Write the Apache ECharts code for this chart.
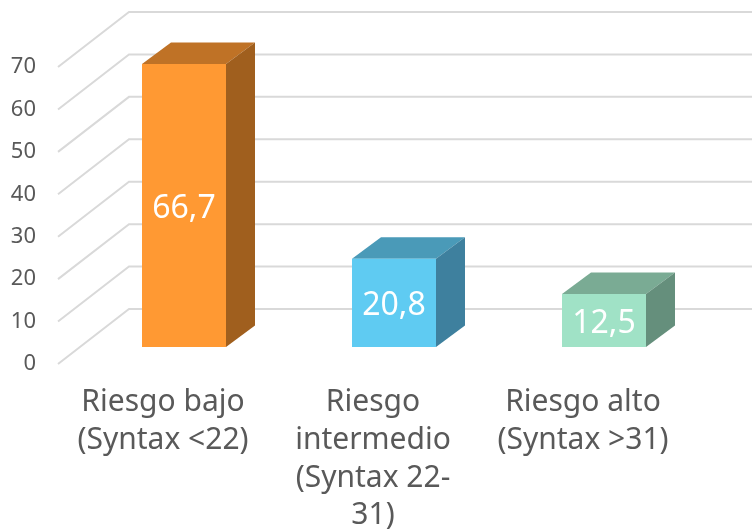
<!DOCTYPE html>
<html>
<head>
<meta charset="utf-8">
<style>
  html, body { margin: 0; padding: 0; background: #fff; }
  #chart { width: 752px; height: 532px; }
</style>
<script src="https://cdn.jsdelivr.net/npm/echarts@6/dist/echarts.min.js"></script>
</head>
<body>
<div id="chart"></div>
<script>
var categories = ['Riesgo bajo\n(Syntax <22)', 'Riesgo\nintermedio\n(Syntax 22-\n31)', 'Riesgo alto\n(Syntax >31)'];
var values = [66.7, 20.8, 12.5];
var yTicks = [0, 10, 20, 30, 40, 50, 60, 70];
var faceColors = ['#ff9933', '#5fcbf2', '#a0e2c6'];
var topColors = ['#bf7226', '#4a9ab8', '#7aab94'];
var sideColors = ['#a05f1e', '#3e809e', '#658f7c'];

var myChart = echarts.init(document.getElementById('chart'), null, { renderer: 'canvas' });
var textFont = '"Noto Sans"';

// the axes sit on the front plane, bars a little behind it, the wall further back
var barShiftX = 21;
var barShiftY = 17;
var depthX = 29;
var depthY = 21.5;
var wallX = 71;
var wallY = 55;

function renderGridLine(params, api) {
    var p = api.coord([0, api.value(0)]);
    var sys = params.coordSys;
    var backX = sys.x + wallX;
    var backY = p[1] - wallY;
    return {
        type: 'polyline',
        shape: { points: [[sys.x, p[1]], [backX, backY], [752, backY]] },
        style: { fill: null, stroke: '#d9d9d9', lineWidth: 2 }
    };
}

function renderBar(params, api) {
    var i = api.value(0);
    var top = api.coord([i, api.value(1)]);
    var bottom = api.coord([i, 0]);
    var w = api.size([1, 0])[0] * 0.4;
    var cx = top[0] + barShiftX;
    var x0 = cx - w / 2;
    var x1 = cx + w / 2;
    var y0 = top[1] - barShiftY;
    var y1 = bottom[1] - barShiftY;
    return {
        type: 'group',
        children: [{
            type: 'polygon',
            shape: { points: [[x0, y0], [x0 + depthX, y0 - depthY], [x1 + depthX, y0 - depthY], [x1, y0]] },
            style: { fill: topColors[i] }
        }, {
            type: 'polygon',
            shape: { points: [[x1, y0], [x1 + depthX, y0 - depthY], [x1 + depthX, y1 - depthY], [x1, y1]] },
            style: { fill: sideColors[i] }
        }, {
            type: 'rect',
            shape: { x: x0, y: y0, width: w, height: y1 - y0 },
            style: { fill: faceColors[i] }
        }, {
            type: 'text',
            style: {
                x: cx,
                y: (y0 + y1) / 2 + 3,
                text: String(api.value(1)).replace('.', ','),
                fill: '#fff',
                font: '32px ' + textFont,
                align: 'center',
                verticalAlign: 'middle'
            }
        }]
    };
}

var option = {
    animation: false,
    grid: { left: 58, right: 64, top: 67, bottom: 168, outerBoundsMode: 'none' },
    xAxis: {
        type: 'category',
        data: categories,
        axisLine: { show: false },
        axisTick: { show: false },
        axisLabel: {
            interval: 0,
            margin: 20,
            color: '#595959',
            fontFamily: textFont,
            fontSize: 30,
            lineHeight: 37.7
        }
    },
    yAxis: {
        type: 'value',
        min: 0,
        max: 70,
        interval: 10,
        axisLine: { show: false },
        axisTick: { show: false },
        splitLine: { show: false },
        axisLabel: {
            margin: 22,
            color: '#595959',
            fontFamily: textFont,
            fontSize: 22
        }
    },
    series: [{
        type: 'custom',
        coordinateSystem: 'cartesian2d',
        renderItem: renderGridLine,
        clip: false,
        silent: true,
        z: 1,
        encode: { y: 0 },
        data: yTicks.map(function (v) { return [v]; })
    }, {
        type: 'custom',
        coordinateSystem: 'cartesian2d',
        renderItem: renderBar,
        clip: false,
        z: 2,
        encode: { x: 0, y: 1 },
        data: values.map(function (v, i) { return [i, v]; })
    }]
};
myChart.setOption(option);
</script>
</body>
</html>
